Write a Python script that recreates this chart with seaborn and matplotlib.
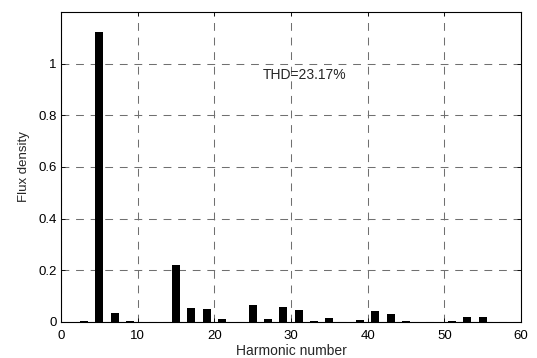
import matplotlib
matplotlib.use("Agg")
import matplotlib.pyplot as plt
import seaborn as sns
import numpy as np

harmonics = [3, 5, 7, 9, 15, 17, 19, 21, 25, 27, 29, 31, 33, 35, 39, 41, 43, 45, 51, 53, 55]
flux = [0.004, 1.122, 0.034, 0.005, 0.22, 0.056, 0.051, 0.010, 0.067, 0.013, 0.058, 0.045,
        0.005, 0.017, 0.008, 0.042, 0.030, 0.005, 0.005, 0.020, 0.020]
xticks = [0, 10, 20, 30, 40, 50, 60]
yticks = [0, 0.2, 0.4, 0.6, 0.8, 1]
ytick_labels = ["0", "0.2", "0.4", "0.6", "0.8", "1"]

sns.set_style("white")
plt.rcParams['font.family'] = ['Liberation Sans', 'DejaVu Sans']

fig = plt.figure(figsize=(5.37, 3.58), dpi=100)
ax = fig.add_axes([61/537, 1 - 322/358, (521-61)/537, (322-12)/358])

sns.barplot(x=harmonics, y=flux, native_scale=True, width=0.52, color='black',
            edgecolor='black', linewidth=0, ax=ax, saturation=1)

ax.set_xlim(0, 60)
ax.set_ylim(0, 1.2)
ax.set_xticks(xticks)
ax.set_xticklabels([str(t) for t in xticks])
ax.set_yticks(yticks)
ax.set_yticklabels(ytick_labels)
ax.grid(True, color='#707070', linestyle=(0, (7.5, 6.5)), linewidth=0.75)
ax.set_axisbelow(True)
for s in ax.spines.values():
    s.set_visible(True)
    s.set_color('black')
    s.set_linewidth(0.8)
ax.tick_params(direction='in', length=3, width=0.6, labelsize=9.5, colors='black',
               top=True, right=True, bottom=True, left=True)
ax.tick_params(axis='x', pad=6)
ax.tick_params(axis='y', pad=3)
ax.set_xlabel("Harmonic number", fontsize=10, labelpad=1)
ax.set_ylabel("Flux density", fontsize=9.5, labelpad=6)
ax.text(26.3, 0.955, "THD=23.17%", fontsize=10, va='center', ha='left')

fig.savefig("out.png", dpi=100)
